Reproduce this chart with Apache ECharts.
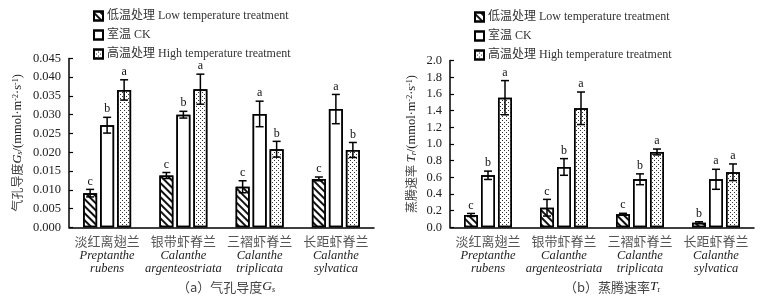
<!DOCTYPE html>
<html>
<head>
<meta charset="utf-8">
<script src="https://cdn.jsdelivr.net/npm/echarts@6/dist/echarts.min.js"></script>
<style>
  html, body { margin: 0; padding: 0; background: #fff; }
  #chart { width: 764px; height: 303px; }
</style>
</head>
<body>
<div id="chart"></div>
<script>
// 物种名
var speciesCn = ['淡红离翅兰', '银带虾脊兰', '三褶虾脊兰', '长距虾脊兰'];
var speciesLatin1 = ['Preptanthe', 'Calanthe', 'Calanthe', 'Calanthe'];
var speciesLatin2 = ['rubens', 'argenteostriata', 'triplicata', 'sylvatica'];
var treatNames = ['低温处理 Low temperature treatment', '室温 CK', '高温处理 High temperature treatment'];

// (a) 气孔导度 Gs
var gsLow = [0.0091, 0.0138, 0.0108, 0.0129];
var gsLowErr = [0.0010, 0.0008, 0.0016, 0.0005];
var gsLowSig = ['c', 'c', 'c', 'c'];
var gsCK = [0.0272, 0.0300, 0.0302, 0.0315];
var gsCKErr = [0.0021, 0.0009, 0.0034, 0.0039];
var gsCKSig = ['b', 'b', 'a', 'a'];
var gsHigh = [0.0366, 0.0368, 0.0208, 0.0206];
var gsHighErr = [0.0027, 0.0040, 0.0021, 0.0020];
var gsHighSig = ['a', 'a', 'b', 'b'];

// (b) 蒸腾速率 Tr
var trLow = [0.148, 0.235, 0.156, 0.056];
var trLowErr = [0.018, 0.100, 0.012, 0.010];
var trLowSig = ['c', 'c', 'c', 'b'];
var trCK = [0.624, 0.724, 0.576, 0.576];
var trCKErr = [0.050, 0.100, 0.065, 0.120];
var trCKSig = ['b', 'b', 'b', 'a'];
var trHigh = [1.555, 1.428, 0.904, 0.660];
var trHighErr = [0.205, 0.195, 0.035, 0.100];
var trHighSig = ['a', 'a', 'a', 'a'];

var serif = '"Liberation Serif", "Noto Sans CJK SC", serif';
var cjk = '"Noto Sans CJK SC", "Liberation Serif", serif';

var BAR_W = 14;
var BAR_PITCH = 17;

var decals = [
    { symbol: 'rect', symbolSize: 1, color: '#111', dashArrayX: [1, 0], dashArrayY: [1.2, 2.3], rotation: Math.PI / 4 },
    null,
    { symbol: 'rect', symbolSize: 1, color: '#333', dashArrayX: [[1, 2.5], [0, 1.75, 1, 0.75]], dashArrayY: [1, 1] }
];

function axisLabelRich() {
    return {
        cn: { fontFamily: cjk, fontSize: 13, lineHeight: 16, color: '#555' },
        it: { fontFamily: serif, fontStyle: 'italic', fontSize: 12.5, lineHeight: 13, color: '#222' }
    };
}

var titleRich = {
    t: { fontFamily: cjk, fontSize: 12, fontWeight: 'normal', color: '#444' },
    e: { fontFamily: serif, fontSize: 12.5, fontWeight: 'normal', color: '#222' },
    i: { fontFamily: serif, fontStyle: 'italic', fontSize: 12.5, fontWeight: 'normal', color: '#222' },
    sub: { fontFamily: serif, fontStyle: 'italic', fontSize: 8, fontWeight: 'normal', color: '#222', verticalAlign: 'bottom' },
    subr: { fontFamily: serif, fontSize: 8, fontWeight: 'normal', color: '#222', verticalAlign: 'bottom' },
    sup: { fontFamily: serif, fontSize: 8, fontWeight: 'normal', color: '#222', verticalAlign: 'top' }
};

function errorSeries(gridIdx, slot, vals, errs, sigs) {
    var data = vals.map(function (v, i) { return [i, v, errs[i], sigs[i]]; });
    return {
        type: 'custom',
        xAxisIndex: gridIdx,
        yAxisIndex: gridIdx,
        z: 5,
        silent: true,
        data: data,
        renderItem: function (params, api) {
            var i = api.value(0), v = api.value(1), e = api.value(2);
            var x = api.coord([i, v])[0] + (slot - 1) * BAR_PITCH;
            var yt = api.coord([i, v + e])[1];
            var yb = api.coord([i, Math.max(v - e, 0)])[1];
            var cap = 4;
            var ls = { stroke: '#000', lineWidth: 1.5 };
            return {
                type: 'group',
                children: [
                    { type: 'line', shape: { x1: x, y1: yt, x2: x, y2: yb }, style: ls },
                    { type: 'line', shape: { x1: x - cap, y1: yt, x2: x + cap, y2: yt }, style: ls },
                    { type: 'line', shape: { x1: x - cap, y1: yb, x2: x + cap, y2: yb }, style: ls },
                    { type: 'text', x: x, y: yt - 2, style: {
                        text: data[params.dataIndex][3], fill: '#111',
                        font: '12px "Liberation Serif"', textAlign: 'center', textVerticalAlign: 'bottom'
                    } }
                ]
            };
        }
    };
}

function barSeries(gridIdx, k, vals) {
    return {
        type: 'bar',
        name: treatNames[k],
        xAxisIndex: gridIdx,
        yAxisIndex: gridIdx,
        barWidth: BAR_W,
        barGap: '21.4%',
        data: vals,
        itemStyle: { color: '#fff', borderColor: '#000', borderWidth: 1.5, decal: decals[k] || { symbol: 'none' } }
    };
}

function legendAt(left, top) {
    return {
        orient: 'vertical', left: left, top: top,
        itemWidth: 9, itemHeight: 9, itemGap: 7,
        icon: 'rect',
        data: treatNames,
        selectedMode: false,
        textStyle: { fontFamily: serif, fontSize: 12, color: '#333', padding: [0, 0, 0, -1] }
    };
}

var catLabels = speciesCn.map(function (c, i) {
    return '{cn|' + c + '}\n{it|' + speciesLatin1[i] + '}\n{it|' + speciesLatin2[i] + '}';
});

function xAxisAt(gridIdx) {
    return {
        type: 'category', gridIndex: gridIdx, data: catLabels,
        axisLine: { lineStyle: { color: '#000', width: 1.5 } },
        axisTick: { show: false },
        axisLabel: { margin: 6, interval: 0, rich: axisLabelRich(), formatter: function (v) { return v; } }
    };
}

function yAxisAt(gridIdx, max, step, digits, name, gap) {
    return {
        type: 'value', gridIndex: gridIdx, min: 0, max: max, interval: step,
        axisLine: { show: true, lineStyle: { color: '#000', width: 1.5 } },
        axisTick: { show: true, inside: true, length: 4, lineStyle: { color: '#000', width: 1.2 } },
        splitLine: { show: false },
        axisLabel: { margin: 8, fontFamily: serif, fontSize: 12.5, color: '#222',
            formatter: function (v) { return v.toFixed(digits); } },
        name: name, nameLocation: 'middle', nameRotate: 90, nameGap: gap,
        nameTextStyle: { rich: titleRich }
    };
}

var chart = echarts.init(document.getElementById('chart'));

var capRich = {
    t: { fontFamily: cjk, fontSize: 13, fontWeight: 'normal', color: '#444' },
    i: { fontFamily: serif, fontStyle: 'italic', fontSize: 13.5, fontWeight: 'normal', color: '#222' },
    sub: { fontFamily: serif, fontStyle: 'italic', fontSize: 8, fontWeight: 'normal', color: '#222', verticalAlign: 'bottom' },
    subr: { fontFamily: serif, fontSize: 8, fontWeight: 'normal', color: '#222', verticalAlign: 'bottom' }
};

var option = {
    backgroundColor: '#fff',
    animation: false,
    legend: [legendAt(88, 5), legendAt(469, 6)],
    title: [
        { text: '{t|（a）气孔导度}{i|G}{sub|s}', left: 221, top: 275, textAlign: 'center',
          textStyle: { fontWeight: 'normal', rich: capRich } },
        { text: '{t|（b）蒸腾速率}{i|T}{subr|r}', left: 607, top: 275, textAlign: 'center',
          textStyle: { fontWeight: 'normal', rich: capRich } }
    ],
    grid: [
        { left: 69, top: 58.4, width: 305, height: 168.9 },
        { left: 450, top: 60.6, width: 304, height: 166.7 }
    ],
    xAxis: [xAxisAt(0), xAxisAt(1)],
    yAxis: [
        yAxisAt(0, 0.045, 0.005, 3,
            '{t|气孔导度}{i|G}{sub|s}{e|/(mmol·m}{sup|-2}{e|·s}{sup|-1}{e|)}', 45),
        yAxisAt(1, 2.0, 0.2, 1,
            '{t|蒸腾速率 }{i|T}{sub|r}{e|/(mmol·m}{sup|-2}{e|·s}{sup|-1}{e|)}', 32)
    ],
    series: [
        barSeries(0, 0, gsLow), barSeries(0, 1, gsCK), barSeries(0, 2, gsHigh),
        barSeries(1, 0, trLow), barSeries(1, 1, trCK), barSeries(1, 2, trHigh),
        errorSeries(0, 0, gsLow, gsLowErr, gsLowSig),
        errorSeries(0, 1, gsCK, gsCKErr, gsCKSig),
        errorSeries(0, 2, gsHigh, gsHighErr, gsHighSig),
        errorSeries(1, 0, trLow, trLowErr, trLowSig),
        errorSeries(1, 1, trCK, trCKErr, trCKSig),
        errorSeries(1, 2, trHigh, trHighErr, trHighSig)
    ]
};

chart.setOption(option);
</script>
</body>
</html>
